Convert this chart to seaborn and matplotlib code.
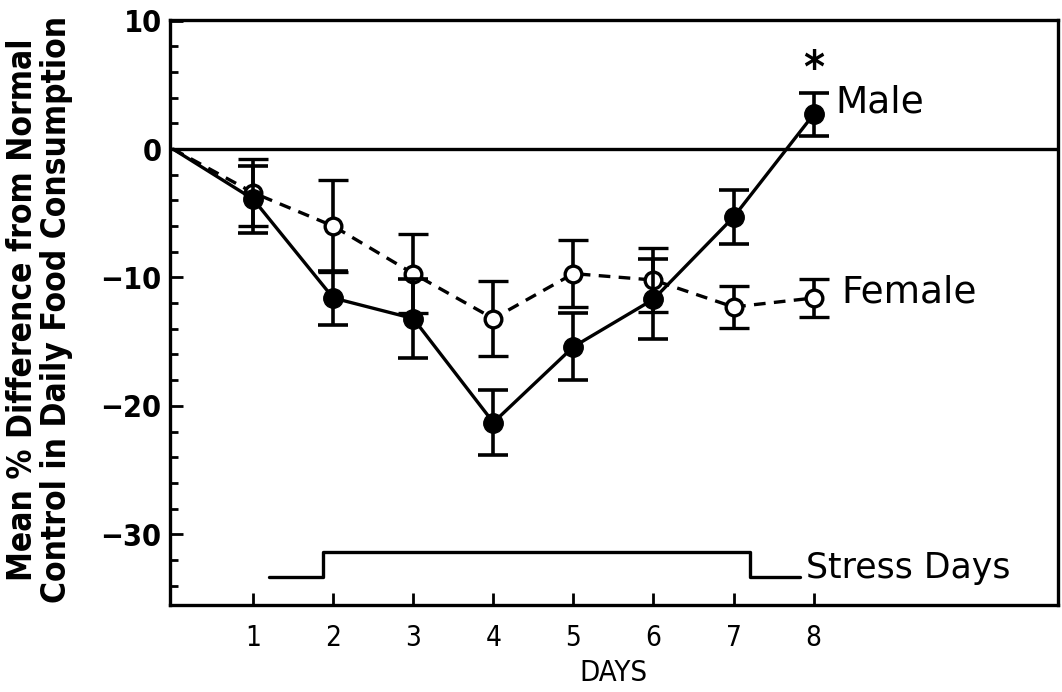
import numpy as np
import pandas as pd
import matplotlib
matplotlib.use("Agg")
import matplotlib.pyplot as plt
import seaborn as sns

# --- Data ---
days = [1, 2, 3, 4, 5, 6, 7, 8]
male_mean = [-3.9, -11.6, -13.2, -21.3, -15.4, -11.7, -5.3, 2.7]
male_err = [2.6, 2.1, 3.1, 2.5, 2.6, 3.1, 2.1, 1.7]
female_mean = [-3.4, -6.0, -9.7, -13.2, -9.7, -10.2, -12.3, -11.6]
female_err = [2.6, 3.6, 3.1, 2.9, 2.6, 2.5, 1.6, 1.5]

# stress-day step indicator (x breakpoints, levels)
stress_x = [1.2, 1.87, 1.87, 7.2, 7.2, 7.83]
stress_y = [-33.3, -33.3, -31.4, -31.4, -33.3, -33.3]

y_ticks = [-30, -20, -10, 0, 10]
x_ticks = days

df = pd.DataFrame({
    "day": [0] + days + [0] + days,
    "value": [0.0] + male_mean + [0.0] + female_mean,
    "sex": ["Male"] * 9 + ["Female"] * 9,
})

# --- Plot ---
sns.set_theme(style="ticks")
plt.rcParams['font.family'] = ['DejaVu Sans']
plt.rcParams['font.stretch'] = 'condensed'
for key in ['text.color', 'axes.labelcolor', 'xtick.color', 'ytick.color']:
    plt.rcParams[key] = 'black'

fig = plt.figure(figsize=(10.62, 6.92), dpi=100)
ax = fig.add_axes([0.160, 0.126, 0.836, 0.845])

sns.lineplot(data=df[df.sex == "Male"], x="day", y="value", color="black",
             linewidth=2.4, ax=ax, legend=False)
sns.lineplot(data=df[df.sex == "Female"], x="day", y="value", color="black",
             linewidth=2.4, linestyle=(0, (3.5, 2.5)), ax=ax, legend=False)

ax.errorbar(days, female_mean, yerr=female_err, fmt="o", color="black",
            markerfacecolor="white", markeredgecolor="black", markeredgewidth=2.4,
            markersize=12, elinewidth=2.6, capsize=11, capthick=2.6, zorder=3)
ax.errorbar(days, male_mean, yerr=male_err, fmt="o", color="black",
            markerfacecolor="black", markeredgecolor="black",
            markersize=14, elinewidth=2.6, capsize=11, capthick=2.6, zorder=4)

ax.axhline(0, color="black", linewidth=2.4, zorder=1)
ax.plot(stress_x, stress_y, color="black", linewidth=2.4)

# annotations use the regular (wider) face like the reference
ax.text(8.27, 3.6, "Male", fontsize=27, fontstretch="normal", va="center", ha="left")
ax.text(8.35, -11.2, "Female", fontsize=27, fontstretch="normal", va="center", ha="left")
ax.text(7.9, -32.6, "Stress Days", fontsize=25, fontstretch="normal", va="center", ha="left")
ax.text(8.0, 6.2, "*", fontsize=32, fontweight="bold", va="center", ha="center")

ax.set_xlim(-0.04, 11.05)
ax.set_ylim(-35.5, 10.05)
ax.set_xticks(x_ticks)
ax.set_xticklabels([str(d) for d in x_ticks], fontsize=20)
ax.set_yticks(y_ticks)
ax.set_yticklabels([str(v).replace("-", "\u2212") for v in y_ticks],
                   fontsize=22, fontweight="bold")
ax.set_yticks(np.arange(-34, 10, 2), minor=True)
ax.tick_params(axis="both", direction="in", width=2, length=9)
ax.tick_params(axis="y", which="minor", direction="in", width=2, length=6)
ax.tick_params(axis="x", pad=14)
ax.tick_params(axis="y", pad=6)

for side in ["left", "bottom", "right", "top"]:
    ax.spines[side].set_linewidth(2.4)
    ax.spines[side].set_color("black")

ax.set_xlabel("DAYS", fontsize=21, labelpad=5)
ax.set_ylabel("Mean % Difference from Normal\nControl in Daily Food Consumption",
              fontsize=24, fontweight="bold", linespacing=1.05)
ax.yaxis.set_label_coords(-0.109, 0.505)

plt.savefig("out.png", dpi=100)
